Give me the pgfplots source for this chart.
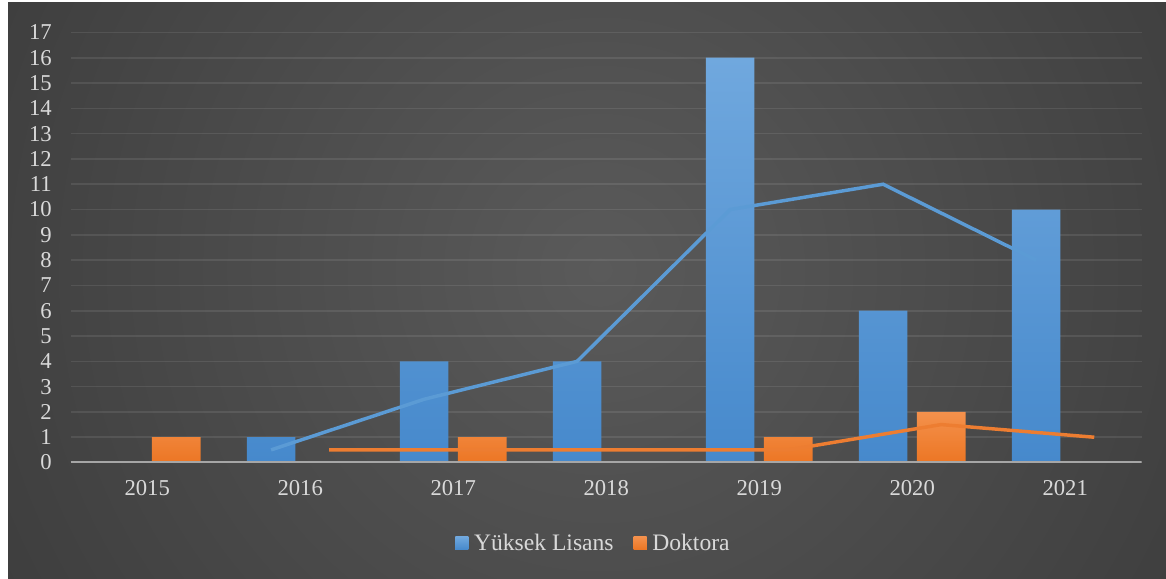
\documentclass[border=0pt]{standalone}
\usepackage{fontspec}
\setmainfont{Liberation Serif}
\usepackage{pgfplots}
\pgfplotsset{compat=1.18}
\definecolor{bgin}{HTML}{5A5A5A}
\definecolor{bgout}{HTML}{242424}
\definecolor{labgray}{HTML}{D9D9D9}
\definecolor{axgray}{HTML}{A6A6A6}
\definecolor{bluetop}{HTML}{70A8DE}
\definecolor{bluebot}{HTML}{4689CC}
\definecolor{orgtop}{HTML}{F4914C}
\definecolor{orgbot}{HTML}{EC7624}
\definecolor{blueline}{HTML}{5B9BD5}
\definecolor{orgline}{HTML}{ED7D31}
\begin{document}
\begin{tikzpicture}
\useasboundingbox (0,0) rectangle (874.5pt,433.5pt);
\fill[white] (0,0) rectangle (874.5pt,433.5pt);
\begin{scope}
\clip (6pt,0) rectangle (874.5pt,431.25pt);
\shade[inner color=bgin, outer color=bgout] (450pt,231pt) circle (975pt);
\end{scope}
\begin{axis}[
  at={(53pt,86.6pt)}, anchor=south west,
  x=114.75pt, y=18.975pt,
  xmin=-0.5, xmax=6.5, ymin=0, ymax=17,
  axis line style={draw=none},
  major tick length=0pt,
  xtick={0,...,6},
  xticklabels={2015,2016,2017,2018,2019,2020,2021},
  ytick={0,...,17},
  ymajorgrids,
  grid style={white, opacity=0.09, line width=1.2pt},
  /pgf/number format/assume math mode=true,
  tick label style={font=\fontsize{17}{20}\selectfont, text=labgray},
  xticklabel style={yshift=-10pt},
  yticklabel style={xshift=-10.6pt},
  legend style={at={(0.4885,-0.187)}, anchor=center, draw=none, fill=none,
    text=labgray, font=\fontsize{17.7}{20}\selectfont, legend columns=2,
    /tikz/every even column/.append style={column sep=13pt}},
  legend cell align=left,
]
\addplot[ybar, bar width=36.4pt, bar shift=-21.8pt, draw=none,
  top color=bluetop, bottom color=bluebot,
  legend image code/.code={\fill[bluebot!70!bluetop] (0pt,-5pt) rectangle (9.75pt,4.75pt); \path (12pt,0pt);}]
  coordinates {(1,1) (2,4) (3,4) (4,16) (5,6) (6,10)};
\addlegendentry{Yüksek Lisans}
\addplot[ybar, bar width=36.4pt, bar shift=21.8pt, draw=none,
  top color=orgtop, bottom color=orgbot,
  legend image code/.code={\fill[orgline] (0pt,-5pt) rectangle (9.75pt,4.75pt); \path (12pt,0pt);}]
  coordinates {(0,1) (2,1) (4,1) (5,2)};
\addlegendentry{Doktora}
\draw[axgray, line width=1.6pt] (rel axis cs:0,0) -- (rel axis cs:1,0);
\addplot[forget plot, sharp plot, blueline, line width=2.6pt, mark=none]
  coordinates {(0.81,0.5) (1.81,2.5) (2.81,4) (3.81,10) (4.81,11) (5.81,8)};
\addplot[forget plot, sharp plot, orgline, line width=2.6pt, mark=none]
  coordinates {(1.19,0.5) (2.19,0.5) (3.19,0.5) (4.19,0.5) (5.19,1.5) (6.19,1)};
\end{axis}
\end{tikzpicture}
\end{document}
